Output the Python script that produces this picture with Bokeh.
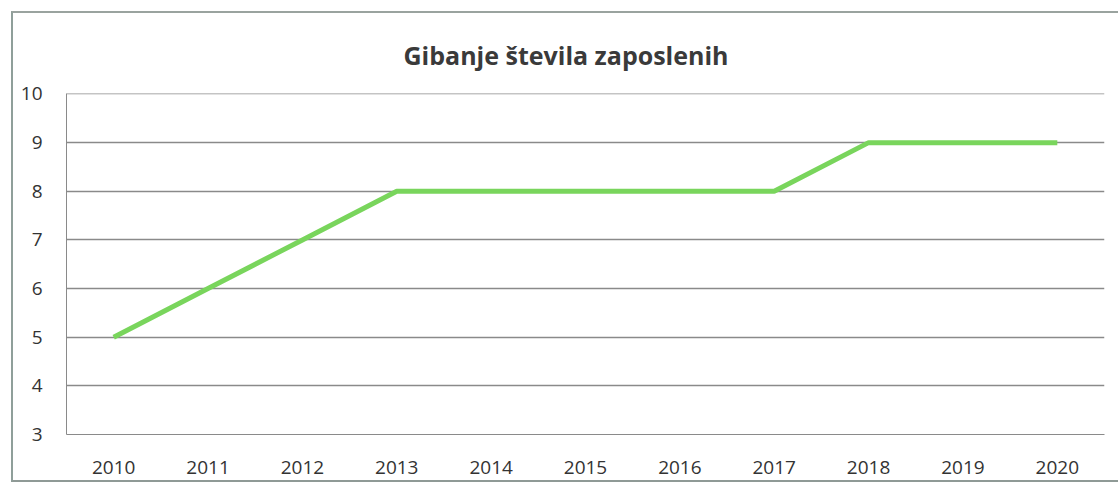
from bokeh.plotting import figure
from bokeh.models import Range1d, FactorRange, FixedTicker
from bokeh.embed import file_html
from bokeh.resources import INLINE

years = ["2010", "2011", "2012", "2013", "2014", "2015", "2016", "2017", "2018", "2019", "2020"]
employees = [5, 6, 7, 8, 8, 8, 8, 8, 9, 9, 9]
title_text = "Gibanje števila zaposlenih"
y_ticks = [3, 4, 5, 6, 7, 8, 9, 10]

p = figure(width=1107, height=471, x_range=FactorRange(*years), y_range=Range1d(3, 10.01),
           output_backend="svg", toolbar_location=None,
           min_border_left=53, min_border_right=16, min_border_top=80, min_border_bottom=50,
           margin=(11, 0, 0, 11), styles={"border-left": "2px solid #8f9f9a", "border-top": "2px solid #9aa39f",
                                           "border-bottom": "2px solid #8f9a96"})
p.outline_line_color = None
p.background_fill_color = "white"

p.title.text = title_text
p.title.align = "left"
p.title.offset = 337
p.title.text_font = "Open Sans"
p.title.text_font_style = "bold"
p.title.text_font_size = "25px"
p.title.text_color = "#3a3a3a"
p.title.standoff = 44

p.line(years, employees, line_color="#79d55c", line_width=5)

gray = "#8a8a8a"
p.yaxis.ticker = FixedTicker(ticks=y_ticks)
p.yaxis.major_tick_line_color = None
p.yaxis.minor_tick_line_color = None
p.yaxis.axis_line_color = gray
p.yaxis.major_label_standoff = 18
p.yaxis.major_label_text_font_size = "19px"
p.yaxis.major_label_text_font = "Open Sans"
p.yaxis.major_label_text_color = "#333333"

p.xaxis.major_tick_line_color = None
p.xaxis.axis_line_color = gray
p.xaxis.major_label_standoff = 20
p.xaxis.major_label_text_font_size = "19px"
p.xaxis.major_label_text_font = "Open Sans"
p.xaxis.major_label_text_color = "#333333"

p.xgrid.grid_line_color = None
p.ygrid.grid_line_color = gray
p.ygrid.grid_line_width = 1.3

open("out.html", "w").write(file_html(p, INLINE))
